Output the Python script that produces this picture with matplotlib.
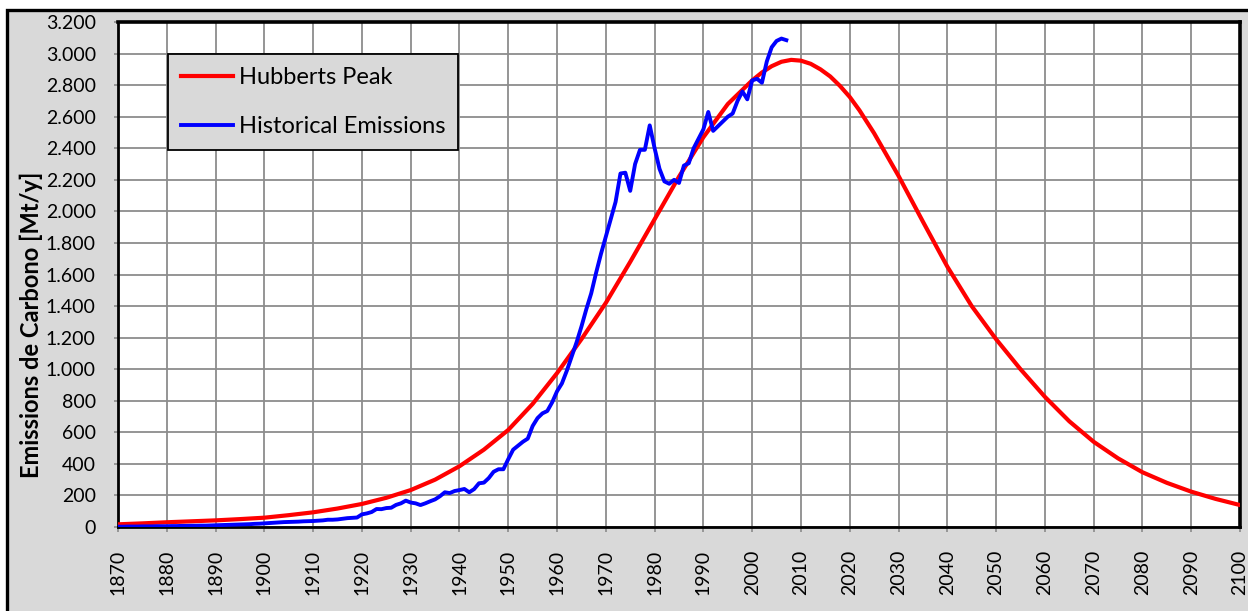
import matplotlib.pyplot as plt
from matplotlib.patches import Rectangle
from matplotlib.ticker import FuncFormatter, MultipleLocator

# Hubbert curve (denser near the peak)
hubbert_years = [1870, 1875, 1880, 1885, 1890, 1895, 1900, 1905, 1910, 1915,
                 1920, 1925, 1930, 1935, 1940, 1945, 1950, 1955, 1960, 1965,
                 1970, 1975, 1980, 1985, 1990, 1995, 2000, 2002, 2004, 2006,
                 2008, 2010, 2012, 2014, 2016, 2018, 2020, 2022, 2025, 2030,
                 2035, 2040, 2045, 2050, 2055, 2060, 2065, 2070, 2075, 2080,
                 2085, 2090, 2095, 2100]
hubbert_values = [17, 23, 30, 36, 42, 50, 59, 75, 93, 117,
                  146, 185, 234, 300, 385, 490, 615, 780, 975, 1190,
                  1420, 1680, 1950, 2220, 2470, 2680, 2830, 2880, 2920, 2948,
                  2960, 2955, 2935, 2900, 2855, 2795, 2725, 2640, 2495, 2225,
                  1935, 1650, 1400, 1190, 1000, 825, 670, 540, 435, 347,
                  280, 224, 178, 139]

# historical emissions, yearly
hist_years = list(range(1870, 2008))
hist_values = [2, 2, 3, 3, 3, 4, 4, 4, 5, 5,
               5, 6, 6, 7, 7, 8, 8, 9, 9, 10,
               11, 12, 13, 14, 15, 16, 17, 18, 20, 21,
               23, 25, 27, 29, 31, 32, 33, 34, 36, 37,
               38, 40, 42, 46, 46, 48, 52, 56, 58, 60,
               80, 86, 95, 114, 113, 120, 122, 140, 150, 167,
               155, 150, 139, 150, 163, 175, 195, 220, 215, 228,
               234, 241, 220, 240, 277, 281, 310, 350, 366, 366,
               430, 490, 515, 540, 560, 640, 690, 720, 735, 790,
               860, 910, 990, 1080, 1170, 1270, 1380, 1480, 1610, 1730,
               1840, 1950, 2060, 2240, 2245, 2130, 2300, 2390, 2390, 2545,
               2400, 2270, 2190, 2175, 2200, 2180, 2290, 2305, 2400, 2460,
               2520, 2630, 2510, 2540, 2570, 2600, 2620, 2700, 2760, 2710,
               2830, 2840, 2815, 2950, 3040, 3080, 3095, 3085]

GRAY_BG = "#D9D9D9"
GRID = "#8C8C8C"
FONT = "Lato"

plt.rcParams["font.family"] = [FONT, "DejaVu Sans"]

fig = plt.figure(figsize=(12.48, 6.11), dpi=100, facecolor="white")

# outer gray panel with black border
fig.patches.append(Rectangle((7 / 1248, -0.2), 1.2, 1.2 - 9.5 / 611,
                             transform=fig.transFigure, facecolor=GRAY_BG,
                             edgecolor="black", linewidth=2.4, zorder=-10))

ax = fig.add_axes([118 / 1248, 1 - 527 / 611, 1122 / 1248, 505 / 611])
ax.set_facecolor("white")

ax.plot(hubbert_years, hubbert_values, color="#FF0000", linewidth=3.0,
        label="Hubberts Peak", zorder=3, solid_joinstyle="round")
ax.plot(hist_years, hist_values, color="#0000FF", linewidth=2.8,
        label="Historical Emissions", zorder=4, solid_joinstyle="round")

ax.set_xlim(1870, 2100)
ax.set_ylim(0, 3200)
ax.xaxis.set_major_locator(MultipleLocator(10))
ax.yaxis.set_major_locator(MultipleLocator(200))
ax.yaxis.set_major_formatter(FuncFormatter(lambda v, p: f"{v:,.0f}".replace(",", ".")))

ax.grid(True, color=GRID, linewidth=1.3)
ax.set_axisbelow(True)

for side, lw in [("left", 2.0), ("bottom", 2.0), ("top", 2.6), ("right", 2.6)]:
    ax.spines[side].set_color("black")
    ax.spines[side].set_linewidth(lw)

ax.tick_params(axis="y", direction="out", length=3, width=1.2, color=GRID,
               labelsize=14, pad=13)
ax.tick_params(axis="x", direction="out", length=3.6, width=1.2, color=GRID,
               labelsize=14, pad=13, labelrotation=90)

ax.set_ylabel("Emissions de Carbono [Mt/y]", fontsize=17, fontweight="bold",
              va="center")
ax.yaxis.set_label_coords(-0.0775, 0.40)

leg = ax.legend(loc="upper left", bbox_to_anchor=(50 / 1122, 473 / 505),
                fontsize=17, frameon=True, fancybox=False, framealpha=1,
                facecolor=GRAY_BG, edgecolor="black", borderaxespad=0,
                handlelength=2.2, handletextpad=0.25, labelspacing=1.2,
                borderpad=0.55)
leg.get_frame().set_linewidth(1.3)

fig.savefig("out.png", dpi=100, facecolor=fig.get_facecolor())
